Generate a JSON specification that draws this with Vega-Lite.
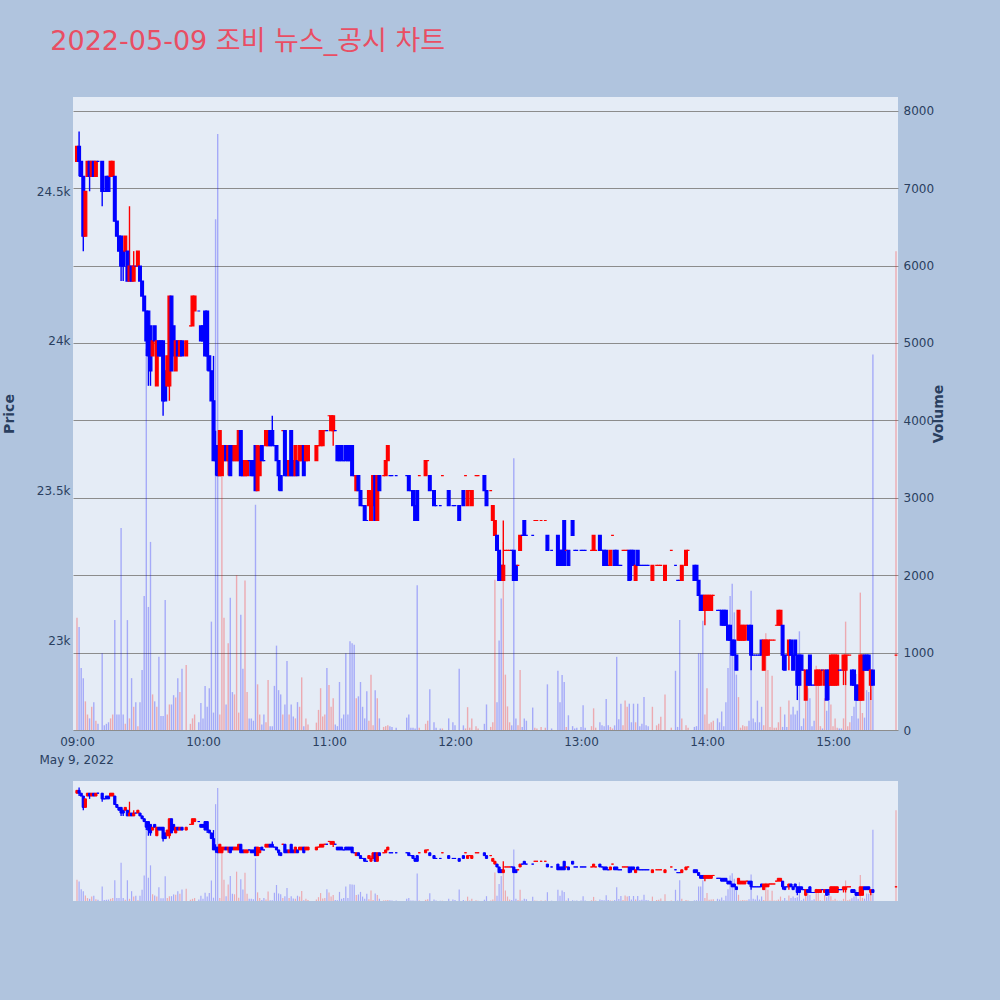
{
"$schema": "https://vega.github.io/schema/vega-lite/v6.json",
"background": "#b0c4de",
"padding": {"left": 2, "top": 28, "right": 54, "bottom": 105},
"title": {"text": "2022-05-09 조비 뉴스_공시 차트", "anchor": "start", "dx": 48, "offset": 41, "fontSize": 27, "font": "DejaVu Sans, Noto Sans CJK KR", "fontWeight": "normal", "color": "#e94e63"},
"config": {"view": {"fill": "#e5ecf6", "stroke": null}, "font": "DejaVu Sans", "axis": {"labelColor": "#2a3f5f", "titleColor": "#2a3f5f", "labelFont": "DejaVu Sans", "titleFont": "DejaVu Sans", "labelFontSize": 12, "domain": false, "ticks": false}},
"datasets": {"k": [
{"t":"2022-05-09T09:00","o":24600,"h":24650,"l":24600,"c":24650,"v":1450,"d":"u"},
{"t":"2022-05-09T09:01","o":24650,"h":24700,"l":24550,"c":24600,"v":1330,"d":"d"},
{"t":"2022-05-09T09:02","o":24600,"h":24600,"l":24550,"c":24550,"v":800,"d":"d"},
{"t":"2022-05-09T09:03","o":24550,"h":24550,"l":24300,"c":24350,"v":670,"d":"d"},
{"t":"2022-05-09T09:04","o":24350,"h":24500,"l":24350,"c":24500,"v":370,"d":"u"},
{"t":"2022-05-09T09:05","o":24550,"h":24600,"l":24550,"c":24600,"v":200,"d":"u"},
{"t":"2022-05-09T09:06","o":24600,"h":24600,"l":24500,"c":24550,"v":150,"d":"d"},
{"t":"2022-05-09T09:07","o":24550,"h":24600,"l":24550,"c":24600,"v":300,"d":"u"},
{"t":"2022-05-09T09:08","o":24600,"h":24600,"l":24550,"c":24550,"v":360,"d":"d"},
{"t":"2022-05-09T09:09","o":24550,"h":24600,"l":24550,"c":24600,"v":120,"d":"u"},
{"t":"2022-05-09T09:10","o":24600,"h":24600,"l":24600,"c":24600,"v":80,"d":"d"},
{"t":"2022-05-09T09:12","o":24600,"h":24600,"l":24450,"c":24500,"v":990,"d":"d"},
{"t":"2022-05-09T09:13","o":24500,"h":24500,"l":24500,"c":24500,"v":60,"d":"d"},
{"t":"2022-05-09T09:14","o":24550,"h":24550,"l":24500,"c":24500,"v":80,"d":"d"},
{"t":"2022-05-09T09:15","o":24550,"h":24550,"l":24500,"c":24500,"v":100,"d":"d"},
{"t":"2022-05-09T09:16","o":24550,"h":24600,"l":24550,"c":24600,"v":150,"d":"u"},
{"t":"2022-05-09T09:17","o":24550,"h":24600,"l":24550,"c":24600,"v":200,"d":"u"},
{"t":"2022-05-09T09:18","o":24550,"h":24550,"l":24400,"c":24400,"v":1420,"d":"d"},
{"t":"2022-05-09T09:19","o":24400,"h":24400,"l":24350,"c":24350,"v":200,"d":"d"},
{"t":"2022-05-09T09:20","o":24350,"h":24350,"l":24300,"c":24300,"v":200,"d":"d"},
{"t":"2022-05-09T09:21","o":24350,"h":24350,"l":24200,"c":24250,"v":2610,"d":"d"},
{"t":"2022-05-09T09:22","o":24300,"h":24300,"l":24200,"c":24250,"v":200,"d":"d"},
{"t":"2022-05-09T09:23","o":24300,"h":24350,"l":24300,"c":24350,"v":80,"d":"u"},
{"t":"2022-05-09T09:24","o":24300,"h":24300,"l":24200,"c":24200,"v":1420,"d":"d"},
{"t":"2022-05-09T09:25","o":24200,"h":24450,"l":24200,"c":24250,"v":150,"d":"u"},
{"t":"2022-05-09T09:26","o":24250,"h":24250,"l":24200,"c":24200,"v":670,"d":"d"},
{"t":"2022-05-09T09:27","o":24200,"h":24300,"l":24200,"c":24250,"v":300,"d":"u"},
{"t":"2022-05-09T09:28","o":24250,"h":24250,"l":24250,"c":24250,"v":360,"d":"d"},
{"t":"2022-05-09T09:29","o":24250,"h":24300,"l":24250,"c":24300,"v":50,"d":"u"},
{"t":"2022-05-09T09:30","o":24250,"h":24250,"l":24200,"c":24200,"v":360,"d":"d"},
{"t":"2022-05-09T09:31","o":24200,"h":24200,"l":24150,"c":24150,"v":775,"d":"d"},
{"t":"2022-05-09T09:32","o":24150,"h":24150,"l":24100,"c":24100,"v":1730,"d":"d"},
{"t":"2022-05-09T09:33","o":24100,"h":24100,"l":23950,"c":24000,"v":4925,"d":"d"},
{"t":"2022-05-09T09:34","o":24100,"h":24100,"l":23850,"c":23950,"v":1590,"d":"d"},
{"t":"2022-05-09T09:35","o":24050,"h":24050,"l":23850,"c":23900,"v":2430,"d":"d"},
{"t":"2022-05-09T09:36","o":23950,"h":24000,"l":23950,"c":24000,"v":460,"d":"u"},
{"t":"2022-05-09T09:37","o":24050,"h":24050,"l":24000,"c":24000,"v":370,"d":"d"},
{"t":"2022-05-09T09:38","o":23850,"h":24000,"l":23850,"c":24000,"v":300,"d":"u"},
{"t":"2022-05-09T09:39","o":24000,"h":24000,"l":23950,"c":23950,"v":945,"d":"d"},
{"t":"2022-05-09T09:40","o":24000,"h":24000,"l":23950,"c":23950,"v":180,"d":"d"},
{"t":"2022-05-09T09:41","o":24000,"h":24000,"l":23750,"c":23800,"v":180,"d":"d"},
{"t":"2022-05-09T09:42","o":23900,"h":23900,"l":23800,"c":23800,"v":1680,"d":"d"},
{"t":"2022-05-09T09:43","o":23850,"h":23950,"l":23850,"c":23950,"v":200,"d":"u"},
{"t":"2022-05-09T09:44","o":23850,"h":24150,"l":23800,"c":24150,"v":330,"d":"u"},
{"t":"2022-05-09T09:45","o":24150,"h":24150,"l":23900,"c":23900,"v":330,"d":"d"},
{"t":"2022-05-09T09:46","o":24050,"h":24050,"l":23950,"c":23950,"v":450,"d":"d"},
{"t":"2022-05-09T09:47","o":23900,"h":24000,"l":23900,"c":24000,"v":420,"d":"u"},
{"t":"2022-05-09T09:48","o":24000,"h":24000,"l":23950,"c":23950,"v":670,"d":"d"},
{"t":"2022-05-09T09:49","o":23950,"h":24000,"l":23950,"c":24000,"v":490,"d":"u"},
{"t":"2022-05-09T09:50","o":24000,"h":24000,"l":23950,"c":23950,"v":790,"d":"d"},
{"t":"2022-05-09T09:52","o":23950,"h":24000,"l":23950,"c":24000,"v":840,"d":"u"},
{"t":"2022-05-09T09:54","o":24050,"h":24050,"l":24050,"c":24050,"v":80,"d":"u"},
{"t":"2022-05-09T09:55","o":24050,"h":24150,"l":24050,"c":24150,"v":150,"d":"u"},
{"t":"2022-05-09T09:56","o":24100,"h":24150,"l":24100,"c":24150,"v":200,"d":"u"},
{"t":"2022-05-09T09:58","o":24100,"h":24100,"l":24100,"c":24100,"v":100,"d":"d"},
{"t":"2022-05-09T09:59","o":24050,"h":24050,"l":24000,"c":24000,"v":350,"d":"d"},
{"t":"2022-05-09T10:00","o":24050,"h":24050,"l":24000,"c":24000,"v":150,"d":"d"},
{"t":"2022-05-09T10:01","o":24100,"h":24100,"l":23950,"c":23950,"v":570,"d":"d"},
{"t":"2022-05-09T10:02","o":24100,"h":24100,"l":23900,"c":23950,"v":300,"d":"d"},
{"t":"2022-05-09T10:03","o":23950,"h":23950,"l":23900,"c":23900,"v":540,"d":"d"},
{"t":"2022-05-09T10:04","o":23900,"h":23900,"l":23800,"c":23800,"v":1400,"d":"d"},
{"t":"2022-05-09T10:05","o":23800,"h":23950,"l":23600,"c":23600,"v":225,"d":"d"},
{"t":"2022-05-09T10:06","o":23650,"h":23700,"l":23550,"c":23600,"v":6600,"d":"d"},
{"t":"2022-05-09T10:07","o":23650,"h":23650,"l":23550,"c":23550,"v":7700,"d":"d"},
{"t":"2022-05-09T10:08","o":23550,"h":23700,"l":23550,"c":23700,"v":200,"d":"u"},
{"t":"2022-05-09T10:09","o":23550,"h":23650,"l":23550,"c":23650,"v":3270,"d":"u"},
{"t":"2022-05-09T10:10","o":23600,"h":23650,"l":23600,"c":23650,"v":1450,"d":"u"},
{"t":"2022-05-09T10:11","o":23650,"h":23650,"l":23600,"c":23600,"v":330,"d":"d"},
{"t":"2022-05-09T10:12","o":23600,"h":23650,"l":23550,"c":23650,"v":1120,"d":"u"},
{"t":"2022-05-09T10:13","o":23650,"h":23650,"l":23550,"c":23550,"v":1710,"d":"d"},
{"t":"2022-05-09T10:14","o":23650,"h":23650,"l":23600,"c":23600,"v":490,"d":"d"},
{"t":"2022-05-09T10:15","o":23600,"h":23650,"l":23600,"c":23650,"v":460,"d":"u"},
{"t":"2022-05-09T10:16","o":23600,"h":23650,"l":23600,"c":23650,"v":2000,"d":"u"},
{"t":"2022-05-09T10:17","o":23600,"h":23700,"l":23600,"c":23700,"v":225,"d":"u"},
{"t":"2022-05-09T10:18","o":23700,"h":23700,"l":23550,"c":23550,"v":1490,"d":"d"},
{"t":"2022-05-09T10:19","o":23600,"h":23600,"l":23550,"c":23550,"v":790,"d":"d"},
{"t":"2022-05-09T10:20","o":23550,"h":23600,"l":23550,"c":23600,"v":1930,"d":"u"},
{"t":"2022-05-09T10:21","o":23550,"h":23600,"l":23550,"c":23600,"v":490,"d":"u"},
{"t":"2022-05-09T10:22","o":23600,"h":23600,"l":23600,"c":23600,"v":150,"d":"d"},
{"t":"2022-05-09T10:23","o":23600,"h":23600,"l":23550,"c":23550,"v":150,"d":"d"},
{"t":"2022-05-09T10:24","o":23600,"h":23600,"l":23550,"c":23550,"v":120,"d":"d"},
{"t":"2022-05-09T10:25","o":23650,"h":23650,"l":23500,"c":23500,"v":2910,"d":"d"},
{"t":"2022-05-09T10:26","o":23500,"h":23650,"l":23500,"c":23650,"v":590,"d":"u"},
{"t":"2022-05-09T10:27","o":23550,"h":23650,"l":23550,"c":23600,"v":200,"d":"u"},
{"t":"2022-05-09T10:28","o":23650,"h":23650,"l":23600,"c":23600,"v":70,"d":"d"},
{"t":"2022-05-09T10:29","o":23600,"h":23600,"l":23600,"c":23600,"v":200,"d":"d"},
{"t":"2022-05-09T10:30","o":23650,"h":23700,"l":23650,"c":23700,"v":100,"d":"u"},
{"t":"2022-05-09T10:31","o":23650,"h":23700,"l":23650,"c":23700,"v":645,"d":"u"},
{"t":"2022-05-09T10:32","o":23700,"h":23700,"l":23650,"c":23650,"v":50,"d":"d"},
{"t":"2022-05-09T10:33","o":23700,"h":23750,"l":23650,"c":23650,"v":50,"d":"d"},
{"t":"2022-05-09T10:34","o":23650,"h":23650,"l":23650,"c":23650,"v":570,"d":"d"},
{"t":"2022-05-09T10:35","o":23650,"h":23650,"l":23600,"c":23600,"v":1090,"d":"d"},
{"t":"2022-05-09T10:36","o":23600,"h":23600,"l":23500,"c":23550,"v":515,"d":"d"},
{"t":"2022-05-09T10:37","o":23550,"h":23550,"l":23500,"c":23500,"v":460,"d":"d"},
{"t":"2022-05-09T10:38","o":23700,"h":23700,"l":23700,"c":23700,"v":200,"d":"u"},
{"t":"2022-05-09T10:39","o":23700,"h":23700,"l":23550,"c":23550,"v":330,"d":"d"},
{"t":"2022-05-09T10:40","o":23600,"h":23600,"l":23550,"c":23550,"v":890,"d":"d"},
{"t":"2022-05-09T10:41","o":23550,"h":23600,"l":23550,"c":23600,"v":200,"d":"u"},
{"t":"2022-05-09T10:42","o":23700,"h":23700,"l":23550,"c":23550,"v":330,"d":"d"},
{"t":"2022-05-09T10:43","o":23600,"h":23600,"l":23550,"c":23550,"v":175,"d":"d"},
{"t":"2022-05-09T10:44","o":23550,"h":23650,"l":23550,"c":23650,"v":150,"d":"u"},
{"t":"2022-05-09T10:45","o":23600,"h":23600,"l":23550,"c":23550,"v":360,"d":"d"},
{"t":"2022-05-09T10:46","o":23600,"h":23650,"l":23600,"c":23650,"v":300,"d":"u"},
{"t":"2022-05-09T10:47","o":23600,"h":23650,"l":23600,"c":23650,"v":680,"d":"u"},
{"t":"2022-05-09T10:48","o":23650,"h":23650,"l":23550,"c":23550,"v":50,"d":"d"},
{"t":"2022-05-09T10:49","o":23600,"h":23650,"l":23600,"c":23650,"v":150,"d":"u"},
{"t":"2022-05-09T10:50","o":23600,"h":23650,"l":23600,"c":23650,"v":70,"d":"u"},
{"t":"2022-05-09T10:54","o":23600,"h":23650,"l":23600,"c":23650,"v":95,"d":"u"},
{"t":"2022-05-09T10:55","o":23650,"h":23650,"l":23650,"c":23650,"v":260,"d":"u"},
{"t":"2022-05-09T10:56","o":23650,"h":23700,"l":23650,"c":23700,"v":540,"d":"u"},
{"t":"2022-05-09T10:57","o":23650,"h":23700,"l":23650,"c":23700,"v":175,"d":"u"},
{"t":"2022-05-09T10:58","o":23700,"h":23700,"l":23700,"c":23700,"v":200,"d":"u"},
{"t":"2022-05-09T10:59","o":23700,"h":23700,"l":23700,"c":23700,"v":800,"d":"d"},
{"t":"2022-05-09T11:00","o":23750,"h":23750,"l":23750,"c":23750,"v":580,"d":"u"},
{"t":"2022-05-09T11:01","o":23700,"h":23750,"l":23700,"c":23750,"v":300,"d":"u"},
{"t":"2022-05-09T11:02","o":23700,"h":23750,"l":23650,"c":23750,"v":410,"d":"u"},
{"t":"2022-05-09T11:03","o":23700,"h":23700,"l":23700,"c":23700,"v":70,"d":"d"},
{"t":"2022-05-09T11:04","o":23650,"h":23650,"l":23600,"c":23600,"v":50,"d":"d"},
{"t":"2022-05-09T11:05","o":23650,"h":23650,"l":23600,"c":23600,"v":620,"d":"d"},
{"t":"2022-05-09T11:06","o":23650,"h":23650,"l":23600,"c":23600,"v":150,"d":"d"},
{"t":"2022-05-09T11:07","o":23600,"h":23600,"l":23600,"c":23600,"v":200,"d":"d"},
{"t":"2022-05-09T11:08","o":23650,"h":23650,"l":23600,"c":23600,"v":990,"d":"d"},
{"t":"2022-05-09T11:09","o":23650,"h":23650,"l":23600,"c":23600,"v":200,"d":"d"},
{"t":"2022-05-09T11:10","o":23650,"h":23650,"l":23600,"c":23600,"v":1145,"d":"d"},
{"t":"2022-05-09T11:11","o":23650,"h":23650,"l":23550,"c":23550,"v":1120,"d":"d"},
{"t":"2022-05-09T11:12","o":23550,"h":23550,"l":23550,"c":23550,"v":1100,"d":"d"},
{"t":"2022-05-09T11:13","o":23500,"h":23550,"l":23500,"c":23550,"v":410,"d":"u"},
{"t":"2022-05-09T11:14","o":23550,"h":23550,"l":23500,"c":23500,"v":435,"d":"d"},
{"t":"2022-05-09T11:15","o":23500,"h":23500,"l":23450,"c":23450,"v":620,"d":"d"},
{"t":"2022-05-09T11:16","o":23450,"h":23450,"l":23450,"c":23450,"v":300,"d":"d"},
{"t":"2022-05-09T11:17","o":23450,"h":23450,"l":23400,"c":23400,"v":150,"d":"d"},
{"t":"2022-05-09T11:18","o":23400,"h":23400,"l":23400,"c":23400,"v":500,"d":"d"},
{"t":"2022-05-09T11:19","o":23450,"h":23500,"l":23450,"c":23500,"v":120,"d":"u"},
{"t":"2022-05-09T11:20","o":23400,"h":23500,"l":23400,"c":23450,"v":715,"d":"u"},
{"t":"2022-05-09T11:21","o":23450,"h":23550,"l":23450,"c":23550,"v":60,"d":"u"},
{"t":"2022-05-09T11:22","o":23550,"h":23550,"l":23400,"c":23400,"v":515,"d":"d"},
{"t":"2022-05-09T11:23","o":23400,"h":23550,"l":23400,"c":23550,"v":410,"d":"u"},
{"t":"2022-05-09T11:24","o":23550,"h":23550,"l":23500,"c":23500,"v":150,"d":"d"},
{"t":"2022-05-09T11:26","o":23550,"h":23550,"l":23550,"c":23550,"v":40,"d":"u"},
{"t":"2022-05-09T11:27","o":23550,"h":23600,"l":23550,"c":23600,"v":50,"d":"u"},
{"t":"2022-05-09T11:28","o":23600,"h":23650,"l":23600,"c":23650,"v":60,"d":"u"},
{"t":"2022-05-09T11:29","o":23550,"h":23550,"l":23550,"c":23550,"v":50,"d":"d"},
{"t":"2022-05-09T11:30","o":23550,"h":23550,"l":23550,"c":23550,"v":40,"d":"d"},
{"t":"2022-05-09T11:32","o":23550,"h":23550,"l":23550,"c":23550,"v":30,"d":"d"},
{"t":"2022-05-09T11:37","o":23550,"h":23550,"l":23550,"c":23550,"v":160,"d":"d"},
{"t":"2022-05-09T11:38","o":23550,"h":23550,"l":23500,"c":23500,"v":200,"d":"d"},
{"t":"2022-05-09T11:39","o":23500,"h":23500,"l":23500,"c":23500,"v":30,"d":"d"},
{"t":"2022-05-09T11:40","o":23500,"h":23500,"l":23450,"c":23450,"v":30,"d":"d"},
{"t":"2022-05-09T11:41","o":23450,"h":23450,"l":23400,"c":23400,"v":20,"d":"d"},
{"t":"2022-05-09T11:42","o":23500,"h":23500,"l":23400,"c":23400,"v":1870,"d":"d"},
{"t":"2022-05-09T11:43","o":23550,"h":23550,"l":23550,"c":23550,"v":30,"d":"u"},
{"t":"2022-05-09T11:46","o":23550,"h":23600,"l":23550,"c":23600,"v":80,"d":"u"},
{"t":"2022-05-09T11:47","o":23600,"h":23600,"l":23600,"c":23600,"v":120,"d":"u"},
{"t":"2022-05-09T11:48","o":23550,"h":23550,"l":23500,"c":23500,"v":525,"d":"d"},
{"t":"2022-05-09T11:50","o":23500,"h":23500,"l":23450,"c":23450,"v":100,"d":"d"},
{"t":"2022-05-09T11:51","o":23450,"h":23450,"l":23450,"c":23450,"v":30,"d":"d"},
{"t":"2022-05-09T11:53","o":23450,"h":23450,"l":23450,"c":23450,"v":20,"d":"d"},
{"t":"2022-05-09T11:54","o":23550,"h":23550,"l":23550,"c":23550,"v":20,"d":"u"},
{"t":"2022-05-09T11:57","o":23500,"h":23500,"l":23450,"c":23450,"v":150,"d":"d"},
{"t":"2022-05-09T11:59","o":23450,"h":23450,"l":23450,"c":23450,"v":100,"d":"d"},
{"t":"2022-05-09T12:00","o":23450,"h":23450,"l":23450,"c":23450,"v":60,"d":"d"},
{"t":"2022-05-09T12:02","o":23450,"h":23450,"l":23400,"c":23400,"v":790,"d":"d"},
{"t":"2022-05-09T12:04","o":23500,"h":23500,"l":23450,"c":23450,"v":60,"d":"d"},
{"t":"2022-05-09T12:05","o":23550,"h":23550,"l":23550,"c":23550,"v":20,"d":"u"},
{"t":"2022-05-09T12:06","o":23450,"h":23500,"l":23450,"c":23500,"v":295,"d":"u"},
{"t":"2022-05-09T12:07","o":23500,"h":23500,"l":23500,"c":23500,"v":30,"d":"u"},
{"t":"2022-05-09T12:08","o":23450,"h":23500,"l":23450,"c":23500,"v":150,"d":"u"},
{"t":"2022-05-09T12:10","o":23550,"h":23550,"l":23550,"c":23550,"v":50,"d":"u"},
{"t":"2022-05-09T12:11","o":23550,"h":23550,"l":23550,"c":23550,"v":20,"d":"u"},
{"t":"2022-05-09T12:14","o":23550,"h":23550,"l":23500,"c":23500,"v":80,"d":"d"},
{"t":"2022-05-09T12:15","o":23500,"h":23500,"l":23450,"c":23450,"v":330,"d":"d"},
{"t":"2022-05-09T12:17","o":23500,"h":23500,"l":23500,"c":23500,"v":40,"d":"u"},
{"t":"2022-05-09T12:18","o":23400,"h":23450,"l":23400,"c":23450,"v":100,"d":"u"},
{"t":"2022-05-09T12:19","o":23350,"h":23400,"l":23350,"c":23400,"v":1940,"d":"u"},
{"t":"2022-05-09T12:20","o":23350,"h":23350,"l":23300,"c":23300,"v":360,"d":"d"},
{"t":"2022-05-09T12:21","o":23300,"h":23300,"l":23200,"c":23200,"v":1155,"d":"d"},
{"t":"2022-05-09T12:22","o":23250,"h":23250,"l":23200,"c":23200,"v":1700,"d":"d"},
{"t":"2022-05-09T12:23","o":23200,"h":23400,"l":23200,"c":23250,"v":2430,"d":"u"},
{"t":"2022-05-09T12:24","o":23300,"h":23300,"l":23300,"c":23300,"v":715,"d":"u"},
{"t":"2022-05-09T12:25","o":23300,"h":23300,"l":23300,"c":23300,"v":305,"d":"u"},
{"t":"2022-05-09T12:26","o":23300,"h":23300,"l":23300,"c":23300,"v":100,"d":"u"},
{"t":"2022-05-09T12:27","o":23300,"h":23300,"l":23300,"c":23300,"v":60,"d":"d"},
{"t":"2022-05-09T12:28","o":23300,"h":23300,"l":23200,"c":23200,"v":3510,"d":"d"},
{"t":"2022-05-09T12:29","o":23250,"h":23250,"l":23200,"c":23200,"v":150,"d":"d"},
{"t":"2022-05-09T12:30","o":23250,"h":23250,"l":23250,"c":23250,"v":60,"d":"u"},
{"t":"2022-05-09T12:31","o":23300,"h":23350,"l":23300,"c":23350,"v":775,"d":"u"},
{"t":"2022-05-09T12:32","o":23350,"h":23350,"l":23350,"c":23350,"v":40,"d":"d"},
{"t":"2022-05-09T12:33","o":23400,"h":23400,"l":23350,"c":23350,"v":150,"d":"d"},
{"t":"2022-05-09T12:34","o":23350,"h":23350,"l":23350,"c":23350,"v":120,"d":"d"},
{"t":"2022-05-09T12:37","o":23350,"h":23350,"l":23350,"c":23350,"v":290,"d":"d"},
{"t":"2022-05-09T12:38","o":23400,"h":23400,"l":23400,"c":23400,"v":30,"d":"u"},
{"t":"2022-05-09T12:39","o":23400,"h":23400,"l":23400,"c":23400,"v":20,"d":"u"},
{"t":"2022-05-09T12:41","o":23400,"h":23400,"l":23400,"c":23400,"v":40,"d":"u"},
{"t":"2022-05-09T12:43","o":23400,"h":23400,"l":23400,"c":23400,"v":30,"d":"u"},
{"t":"2022-05-09T12:44","o":23350,"h":23350,"l":23300,"c":23300,"v":590,"d":"d"},
{"t":"2022-05-09T12:46","o":23300,"h":23300,"l":23300,"c":23300,"v":20,"d":"d"},
{"t":"2022-05-09T12:49","o":23350,"h":23350,"l":23250,"c":23250,"v":765,"d":"d"},
{"t":"2022-05-09T12:50","o":23300,"h":23300,"l":23250,"c":23250,"v":360,"d":"d"},
{"t":"2022-05-09T12:51","o":23300,"h":23300,"l":23250,"c":23250,"v":710,"d":"d"},
{"t":"2022-05-09T12:52","o":23400,"h":23400,"l":23250,"c":23250,"v":620,"d":"d"},
{"t":"2022-05-09T12:53","o":23300,"h":23300,"l":23300,"c":23300,"v":40,"d":"u"},
{"t":"2022-05-09T12:54","o":23300,"h":23300,"l":23250,"c":23250,"v":190,"d":"d"},
{"t":"2022-05-09T12:56","o":23400,"h":23400,"l":23350,"c":23350,"v":50,"d":"d"},
{"t":"2022-05-09T12:57","o":23300,"h":23300,"l":23300,"c":23300,"v":20,"d":"d"},
{"t":"2022-05-09T12:58","o":23300,"h":23300,"l":23300,"c":23300,"v":30,"d":"d"},
{"t":"2022-05-09T13:00","o":23300,"h":23300,"l":23300,"c":23300,"v":40,"d":"d"},
{"t":"2022-05-09T13:01","o":23300,"h":23300,"l":23300,"c":23300,"v":320,"d":"d"},
{"t":"2022-05-09T13:02","o":23300,"h":23300,"l":23300,"c":23300,"v":30,"d":"d"},
{"t":"2022-05-09T13:05","o":23300,"h":23300,"l":23300,"c":23300,"v":50,"d":"u"},
{"t":"2022-05-09T13:06","o":23300,"h":23350,"l":23300,"c":23350,"v":280,"d":"u"},
{"t":"2022-05-09T13:07","o":23300,"h":23300,"l":23300,"c":23300,"v":30,"d":"u"},
{"t":"2022-05-09T13:09","o":23350,"h":23350,"l":23300,"c":23300,"v":100,"d":"d"},
{"t":"2022-05-09T13:10","o":23300,"h":23300,"l":23300,"c":23300,"v":60,"d":"d"},
{"t":"2022-05-09T13:11","o":23300,"h":23300,"l":23250,"c":23250,"v":50,"d":"d"},
{"t":"2022-05-09T13:12","o":23300,"h":23300,"l":23250,"c":23250,"v":400,"d":"d"},
{"t":"2022-05-09T13:13","o":23250,"h":23250,"l":23250,"c":23250,"v":60,"d":"d"},
{"t":"2022-05-09T13:14","o":23250,"h":23300,"l":23250,"c":23300,"v":40,"d":"u"},
{"t":"2022-05-09T13:15","o":23350,"h":23350,"l":23350,"c":23350,"v":20,"d":"u"},
{"t":"2022-05-09T13:16","o":23300,"h":23300,"l":23250,"c":23250,"v":60,"d":"d"},
{"t":"2022-05-09T13:17","o":23300,"h":23300,"l":23250,"c":23250,"v":945,"d":"d"},
{"t":"2022-05-09T13:18","o":23250,"h":23250,"l":23250,"c":23250,"v":140,"d":"d"},
{"t":"2022-05-09T13:19","o":23250,"h":23250,"l":23250,"c":23250,"v":340,"d":"d"},
{"t":"2022-05-09T13:20","o":23300,"h":23300,"l":23300,"c":23300,"v":60,"d":"u"},
{"t":"2022-05-09T13:21","o":23300,"h":23300,"l":23300,"c":23300,"v":380,"d":"u"},
{"t":"2022-05-09T13:22","o":23300,"h":23300,"l":23300,"c":23300,"v":300,"d":"u"},
{"t":"2022-05-09T13:23","o":23300,"h":23300,"l":23200,"c":23200,"v":340,"d":"d"},
{"t":"2022-05-09T13:24","o":23300,"h":23300,"l":23200,"c":23250,"v":100,"d":"d"},
{"t":"2022-05-09T13:25","o":23300,"h":23300,"l":23250,"c":23250,"v":340,"d":"d"},
{"t":"2022-05-09T13:26","o":23200,"h":23250,"l":23200,"c":23250,"v":100,"d":"u"},
{"t":"2022-05-09T13:27","o":23300,"h":23300,"l":23250,"c":23250,"v":340,"d":"d"},
{"t":"2022-05-09T13:28","o":23250,"h":23250,"l":23250,"c":23250,"v":50,"d":"d"},
{"t":"2022-05-09T13:29","o":23250,"h":23250,"l":23250,"c":23250,"v":80,"d":"d"},
{"t":"2022-05-09T13:30","o":23250,"h":23250,"l":23250,"c":23250,"v":425,"d":"d"},
{"t":"2022-05-09T13:31","o":23250,"h":23250,"l":23250,"c":23250,"v":60,"d":"d"},
{"t":"2022-05-09T13:32","o":23250,"h":23250,"l":23250,"c":23250,"v":50,"d":"d"},
{"t":"2022-05-09T13:34","o":23200,"h":23250,"l":23200,"c":23250,"v":300,"d":"u"},
{"t":"2022-05-09T13:36","o":23250,"h":23250,"l":23250,"c":23250,"v":60,"d":"u"},
{"t":"2022-05-09T13:37","o":23250,"h":23250,"l":23250,"c":23250,"v":80,"d":"u"},
{"t":"2022-05-09T13:38","o":23250,"h":23250,"l":23250,"c":23250,"v":170,"d":"u"},
{"t":"2022-05-09T13:40","o":23200,"h":23250,"l":23200,"c":23250,"v":460,"d":"u"},
{"t":"2022-05-09T13:43","o":23300,"h":23300,"l":23300,"c":23300,"v":30,"d":"u"},
{"t":"2022-05-09T13:45","o":23250,"h":23250,"l":23250,"c":23250,"v":765,"d":"d"},
{"t":"2022-05-09T13:46","o":23200,"h":23200,"l":23200,"c":23200,"v":40,"d":"d"},
{"t":"2022-05-09T13:47","o":23200,"h":23200,"l":23200,"c":23200,"v":1420,"d":"d"},
{"t":"2022-05-09T13:48","o":23200,"h":23250,"l":23200,"c":23250,"v":150,"d":"u"},
{"t":"2022-05-09T13:50","o":23250,"h":23300,"l":23250,"c":23300,"v":60,"d":"u"},
{"t":"2022-05-09T13:51","o":23300,"h":23300,"l":23300,"c":23300,"v":30,"d":"u"},
{"t":"2022-05-09T13:54","o":23250,"h":23250,"l":23200,"c":23200,"v":40,"d":"d"},
{"t":"2022-05-09T13:55","o":23250,"h":23250,"l":23200,"c":23200,"v":50,"d":"d"},
{"t":"2022-05-09T13:56","o":23200,"h":23200,"l":23150,"c":23150,"v":990,"d":"d"},
{"t":"2022-05-09T13:57","o":23150,"h":23150,"l":23100,"c":23100,"v":990,"d":"d"},
{"t":"2022-05-09T13:58","o":23150,"h":23150,"l":23100,"c":23100,"v":1410,"d":"d"},
{"t":"2022-05-09T13:59","o":23100,"h":23150,"l":23050,"c":23150,"v":200,"d":"u"},
{"t":"2022-05-09T14:00","o":23100,"h":23150,"l":23100,"c":23150,"v":540,"d":"u"},
{"t":"2022-05-09T14:01","o":23100,"h":23150,"l":23100,"c":23150,"v":80,"d":"u"},
{"t":"2022-05-09T14:02","o":23100,"h":23150,"l":23100,"c":23150,"v":100,"d":"u"},
{"t":"2022-05-09T14:03","o":23150,"h":23150,"l":23150,"c":23150,"v":120,"d":"u"},
{"t":"2022-05-09T14:05","o":23100,"h":23100,"l":23100,"c":23100,"v":150,"d":"d"},
{"t":"2022-05-09T14:06","o":23100,"h":23100,"l":23100,"c":23100,"v":100,"d":"d"},
{"t":"2022-05-09T14:07","o":23100,"h":23100,"l":23050,"c":23050,"v":240,"d":"d"},
{"t":"2022-05-09T14:08","o":23100,"h":23100,"l":23050,"c":23050,"v":50,"d":"d"},
{"t":"2022-05-09T14:09","o":23100,"h":23100,"l":23050,"c":23050,"v":360,"d":"d"},
{"t":"2022-05-09T14:10","o":23050,"h":23050,"l":23000,"c":23000,"v":800,"d":"d"},
{"t":"2022-05-09T14:11","o":23050,"h":23050,"l":23000,"c":23000,"v":1730,"d":"d"},
{"t":"2022-05-09T14:12","o":23000,"h":23000,"l":22950,"c":22950,"v":1890,"d":"d"},
{"t":"2022-05-09T14:13","o":23000,"h":23000,"l":22950,"c":22950,"v":1520,"d":"d"},
{"t":"2022-05-09T14:14","o":22950,"h":22950,"l":22900,"c":22900,"v":715,"d":"d"},
{"t":"2022-05-09T14:15","o":23000,"h":23100,"l":23000,"c":23100,"v":425,"d":"u"},
{"t":"2022-05-09T14:16","o":23000,"h":23050,"l":23000,"c":23050,"v":30,"d":"u"},
{"t":"2022-05-09T14:17","o":23000,"h":23050,"l":23000,"c":23050,"v":60,"d":"u"},
{"t":"2022-05-09T14:18","o":23000,"h":23050,"l":23000,"c":23050,"v":50,"d":"u"},
{"t":"2022-05-09T14:19","o":23050,"h":23050,"l":23050,"c":23050,"v":50,"d":"u"},
{"t":"2022-05-09T14:20","o":23050,"h":23050,"l":23000,"c":23000,"v":120,"d":"d"},
{"t":"2022-05-09T14:21","o":23050,"h":23050,"l":22900,"c":22950,"v":1800,"d":"d"},
{"t":"2022-05-09T14:22","o":22950,"h":22950,"l":22950,"c":22950,"v":150,"d":"d"},
{"t":"2022-05-09T14:23","o":22950,"h":22950,"l":22950,"c":22950,"v":100,"d":"d"},
{"t":"2022-05-09T14:24","o":22950,"h":22950,"l":22950,"c":22950,"v":380,"d":"d"},
{"t":"2022-05-09T14:25","o":22950,"h":22950,"l":22950,"c":22950,"v":100,"d":"d"},
{"t":"2022-05-09T14:26","o":23000,"h":23000,"l":22950,"c":22950,"v":300,"d":"d"},
{"t":"2022-05-09T14:27","o":22900,"h":23000,"l":22900,"c":23000,"v":60,"d":"u"},
{"t":"2022-05-09T14:28","o":22950,"h":23000,"l":22950,"c":23000,"v":1250,"d":"u"},
{"t":"2022-05-09T14:29","o":22950,"h":23000,"l":22950,"c":23000,"v":775,"d":"u"},
{"t":"2022-05-09T14:30","o":23000,"h":23000,"l":23000,"c":23000,"v":40,"d":"u"},
{"t":"2022-05-09T14:31","o":23000,"h":23000,"l":23000,"c":23000,"v":700,"d":"u"},
{"t":"2022-05-09T14:32","o":23000,"h":23000,"l":23000,"c":23000,"v":30,"d":"u"},
{"t":"2022-05-09T14:33","o":23050,"h":23050,"l":23050,"c":23050,"v":30,"d":"u"},
{"t":"2022-05-09T14:34","o":23050,"h":23100,"l":23050,"c":23100,"v":100,"d":"u"},
{"t":"2022-05-09T14:35","o":23050,"h":23100,"l":23050,"c":23100,"v":300,"d":"u"},
{"t":"2022-05-09T14:36","o":23050,"h":23050,"l":22900,"c":22950,"v":40,"d":"d"},
{"t":"2022-05-09T14:37","o":22950,"h":22950,"l":22900,"c":22900,"v":200,"d":"d"},
{"t":"2022-05-09T14:38","o":22950,"h":22950,"l":22950,"c":22950,"v":40,"d":"d"},
{"t":"2022-05-09T14:39","o":22950,"h":23000,"l":22900,"c":23000,"v":380,"d":"u"},
{"t":"2022-05-09T14:40","o":23000,"h":23000,"l":22950,"c":22950,"v":200,"d":"d"},
{"t":"2022-05-09T14:41","o":22950,"h":22950,"l":22900,"c":22900,"v":300,"d":"d"},
{"t":"2022-05-09T14:42","o":23000,"h":23000,"l":22950,"c":22950,"v":200,"d":"d"},
{"t":"2022-05-09T14:43","o":22950,"h":22950,"l":22800,"c":22850,"v":250,"d":"d"},
{"t":"2022-05-09T14:44","o":22950,"h":22950,"l":22850,"c":22850,"v":1275,"d":"d"},
{"t":"2022-05-09T14:45","o":22950,"h":22950,"l":22900,"c":22900,"v":50,"d":"d"},
{"t":"2022-05-09T14:46","o":22900,"h":22900,"l":22900,"c":22900,"v":150,"d":"d"},
{"t":"2022-05-09T14:47","o":22800,"h":22900,"l":22800,"c":22900,"v":590,"d":"u"},
{"t":"2022-05-09T14:48","o":22900,"h":22900,"l":22850,"c":22850,"v":540,"d":"d"},
{"t":"2022-05-09T14:49","o":22950,"h":22950,"l":22850,"c":22850,"v":410,"d":"d"},
{"t":"2022-05-09T14:50","o":22850,"h":22850,"l":22850,"c":22850,"v":50,"d":"d"},
{"t":"2022-05-09T14:51","o":22850,"h":22850,"l":22850,"c":22850,"v":120,"d":"d"},
{"t":"2022-05-09T14:52","o":22850,"h":22900,"l":22850,"c":22900,"v":830,"d":"u"},
{"t":"2022-05-09T14:53","o":22850,"h":22900,"l":22850,"c":22900,"v":570,"d":"u"},
{"t":"2022-05-09T14:54","o":22850,"h":22900,"l":22850,"c":22900,"v":50,"d":"u"},
{"t":"2022-05-09T14:55","o":22900,"h":22900,"l":22900,"c":22900,"v":20,"d":"d"},
{"t":"2022-05-09T14:56","o":22850,"h":22900,"l":22850,"c":22900,"v":410,"d":"u"},
{"t":"2022-05-09T14:57","o":22900,"h":22900,"l":22800,"c":22800,"v":250,"d":"d"},
{"t":"2022-05-09T14:58","o":22900,"h":22900,"l":22800,"c":22850,"v":570,"d":"d"},
{"t":"2022-05-09T14:59","o":22850,"h":22950,"l":22850,"c":22950,"v":330,"d":"u"},
{"t":"2022-05-09T15:00","o":22850,"h":22950,"l":22850,"c":22950,"v":50,"d":"u"},
{"t":"2022-05-09T15:01","o":22850,"h":22950,"l":22850,"c":22950,"v":150,"d":"u"},
{"t":"2022-05-09T15:02","o":22850,"h":22950,"l":22850,"c":22950,"v":30,"d":"u"},
{"t":"2022-05-09T15:03","o":22900,"h":22900,"l":22900,"c":22900,"v":20,"d":"d"},
{"t":"2022-05-09T15:04","o":22900,"h":22900,"l":22900,"c":22900,"v":20,"d":"d"},
{"t":"2022-05-09T15:05","o":22900,"h":22950,"l":22850,"c":22950,"v":150,"d":"u"},
{"t":"2022-05-09T15:06","o":22900,"h":22950,"l":22850,"c":22950,"v":1400,"d":"u"},
{"t":"2022-05-09T15:07","o":22950,"h":22950,"l":22950,"c":22950,"v":50,"d":"u"},
{"t":"2022-05-09T15:08","o":22950,"h":22950,"l":22950,"c":22950,"v":100,"d":"u"},
{"t":"2022-05-09T15:09","o":22900,"h":22900,"l":22850,"c":22850,"v":180,"d":"d"},
{"t":"2022-05-09T15:10","o":22900,"h":22900,"l":22850,"c":22850,"v":300,"d":"d"},
{"t":"2022-05-09T15:11","o":22850,"h":22850,"l":22800,"c":22800,"v":725,"d":"d"},
{"t":"2022-05-09T15:12","o":22850,"h":22850,"l":22800,"c":22800,"v":150,"d":"d"},
{"t":"2022-05-09T15:13","o":22800,"h":22950,"l":22800,"c":22950,"v":1775,"d":"u"},
{"t":"2022-05-09T15:14","o":22800,"h":22950,"l":22800,"c":22950,"v":220,"d":"u"},
{"t":"2022-05-09T15:15","o":22950,"h":22950,"l":22900,"c":22900,"v":160,"d":"d"},
{"t":"2022-05-09T15:16","o":22950,"h":22950,"l":22900,"c":22900,"v":515,"d":"d"},
{"t":"2022-05-09T15:17","o":22950,"h":22950,"l":22900,"c":22900,"v":490,"d":"d"},
{"t":"2022-05-09T15:18","o":22850,"h":22900,"l":22800,"c":22900,"v":525,"d":"u"},
{"t":"2022-05-09T15:19","o":22900,"h":22900,"l":22850,"c":22850,"v":4850,"d":"d"},
{"t":"2022-05-09T15:30","o":22950,"h":22950,"l":22950,"c":22950,"v":6185,"d":"u"}
]},
"bounds": "flush",
"spacing": 51,
"vconcat": [
{
"width": 825, "height": 633,
"data": {"name": "k"},
"encoding": {"x": {"field": "t", "type": "temporal",
  "scale": {"nice": false, "padding": 0, "domain": [{"year":2022,"month":5,"date":9,"hours":8,"minutes":58,"seconds":6},{"year":2022,"month":5,"date":9,"hours":15,"minutes":30,"seconds":57}]},
  "axis": {"format": "%H:%M", "grid": false, "labelPadding": 6, "labelFontSize": 12,
    "values": [{"year":2022,"month":5,"date":9,"hours":9},{"year":2022,"month":5,"date":9,"hours":10},{"year":2022,"month":5,"date":9,"hours":11},{"year":2022,"month":5,"date":9,"hours":12},{"year":2022,"month":5,"date":9,"hours":13},{"year":2022,"month":5,"date":9,"hours":14},{"year":2022,"month":5,"date":9,"hours":15}],
    "title": "May 9, 2022", "titleFontWeight": "normal", "titleFontSize": 12, "titleAlign": "left", "titleBaseline": "alphabetic", "titleX": -34, "titleY": 33}}},
"layer": [
  {"mark": {"type": "bar", "size": 1.4, "opacity": 0.28},
   "encoding": {
     "y": {"field": "v", "type": "quantitative", "scale": {"domain": [0, 8178], "nice": false},
       "axis": {"orient": "right", "values": [0,1000,2000,3000,4000,5000,6000,7000,8000], "format": "d", "title": "Volume", "titleFontSize": 14, "titleFontWeight": "bold", "titleAngle": 270, "titlePadding": 12, "labelPadding": 5, "gridColor": "#8c8c8c", "gridWidth": 1.2}},
     "color": {"field": "d", "type": "nominal", "scale": {"domain": ["u","d"], "range": ["#ff0000","#0000ff"]}, "legend": null}}},
  {"layer": [
    {"mark": {"type": "rule", "strokeWidth": 1.4},
     "encoding": {
       "y": {"field": "l", "type": "quantitative", "title": "Price", "scale": {"domain": [22700, 24815], "nice": false},
         "axis": {"orient": "left", "values": [23000,23500,24000,24500], "labelExpr": "(datum.value/1000) + 'k'", "title": "Price", "titleFontSize": 14, "titleFontWeight": "bold", "titlePadding": 20, "labelPadding": 3, "gridColor": "#ffffff", "gridWidth": 1.5}},
       "y2": {"field": "h"},
       "color": {"field": "d", "type": "nominal", "scale": {"domain": ["u","d"], "range": ["#ff0000","#0000ff"]}, "legend": null}}},
    {"mark": {"type": "bar", "size": 2.8, "strokeWidth": 1.2},
     "encoding": {
       "y": {"field": "o", "type": "quantitative", "title": "Price"},
       "y2": {"field": "c"},
       "color": {"field": "d", "type": "nominal", "scale": {"domain": ["u","d"], "range": ["#ff0000","#0000ff"]}, "legend": null},
       "stroke": {"field": "d", "type": "nominal", "scale": {"domain": ["u","d"], "range": ["#ff0000","#0000ff"]}, "legend": null}}}
  ]}
],
"resolve": {"scale": {"y": "independent"}}
},
{
"width": 825, "height": 120,
"data": {"name": "k"},
"encoding": {"x": {"field": "t", "type": "temporal",
  "scale": {"nice": false, "padding": 0, "domain": [{"year":2022,"month":5,"date":9,"hours":8,"minutes":58,"seconds":6},{"year":2022,"month":5,"date":9,"hours":15,"minutes":30,"seconds":57}]},
  "axis": null}},
"layer": [
  {"mark": {"type": "bar", "size": 1.2, "opacity": 0.28},
   "encoding": {
     "y": {"field": "v", "type": "quantitative", "scale": {"domain": [0, 8178], "nice": false}, "axis": null},
     "color": {"field": "d", "type": "nominal", "scale": {"domain": ["u","d"], "range": ["#ff0000","#0000ff"]}, "legend": null}}},
  {"layer": [
    {"mark": {"type": "rule", "strokeWidth": 1.3},
     "encoding": {
       "y": {"field": "l", "type": "quantitative", "scale": {"domain": [22700, 24815], "nice": false}, "axis": null},
       "y2": {"field": "h"},
       "color": {"field": "d", "type": "nominal", "scale": {"domain": ["u","d"], "range": ["#ff0000","#0000ff"]}, "legend": null}}},
    {"mark": {"type": "bar", "size": 2.2, "strokeWidth": 1},
     "encoding": {
       "y": {"field": "o", "type": "quantitative", "axis": null},
       "y2": {"field": "c"},
       "color": {"field": "d", "type": "nominal", "scale": {"domain": ["u","d"], "range": ["#ff0000","#0000ff"]}, "legend": null},
       "stroke": {"field": "d", "type": "nominal", "scale": {"domain": ["u","d"], "range": ["#ff0000","#0000ff"]}, "legend": null}}}
  ]}
],
"resolve": {"scale": {"y": "independent"}}
}
],
"resolve": {"scale": {"x": "independent", "y": "independent"}}
}
